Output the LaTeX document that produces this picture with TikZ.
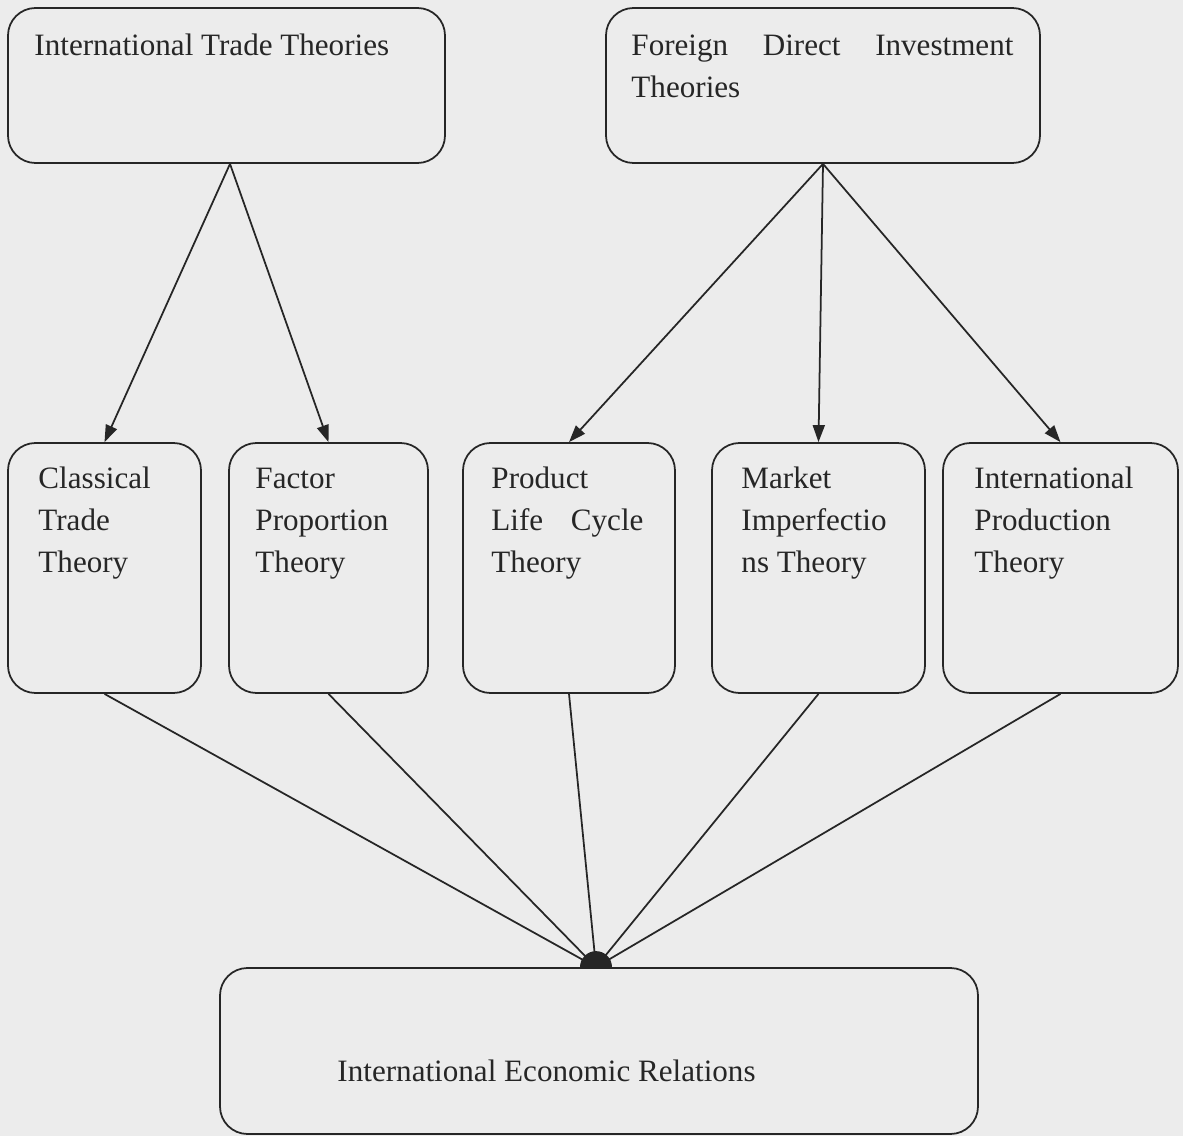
\documentclass[tikz,border=0pt]{standalone}
\usepackage{fontspec}
\setmainfont{Liberation Serif}
\usetikzlibrary{arrows.meta}
\definecolor{paper}{RGB}{236,236,236}
\definecolor{ink}{RGB}{38,38,38}
\tikzset{
  theorybox/.style={draw=ink, line width=1pt, rounded corners=0.55cm, inner sep=0pt},
  boxtext/.style={anchor=base west, inner sep=0pt, text=ink, align=justify, font=\fontsize{17.7}{23.9}\selectfont},
  link/.style={draw=ink, line width=1pt},
  tip/.style={-{Triangle[length=0.34cm,width=0.24cm]}}
}
\begin{document}
\begin{tikzpicture}
    \fill[paper] (0,0) rectangle (23.66,-22.72);
    \useasboundingbox (0,0) rectangle (23.66,-22.72);

    % theory groups
    \node[theorybox, minimum width=8.74cm, minimum height=3.1cm] (itt) at (4.53,-1.71) {};
    \node[theorybox, minimum width=8.68cm, minimum height=3.1cm] (fdi) at (16.46,-1.71) {};
    \node[boxtext, text width=7.6cm] (itt-t) at ([shift={(0.54,-0.96)}]itt.north west) {International Trade Theories};
    \node[boxtext, text width=7.64cm] (fdi-t) at ([shift={(0.52,-0.96)}]fdi.north west) {Foreign \hfill Direct \hfill Investment\\Theories};

    % single theories
    \node[theorybox, minimum width=3.86cm, minimum height=5cm] (cls) at (2.09,-11.36) {};
    \node[theorybox, minimum width=3.98cm, minimum height=5cm] (fac) at (6.57,-11.36) {};
    \node[theorybox, minimum width=4.24cm, minimum height=5cm] (plc) at (11.38,-11.36) {};
    \node[theorybox, minimum width=4.26cm, minimum height=5cm] (mkt) at (16.37,-11.36) {};
    \node[theorybox, minimum width=4.7cm, minimum height=5cm] (ipt) at (21.21,-11.36) {};

    \node[boxtext, text width=3.04cm] (cls-t) at ([shift={(0.62,-0.92)}]cls.north west) {Classical\\Trade\\Theory};
    \node[boxtext, text width=3.04cm] (fac-t) at ([shift={(0.54,-0.92)}]fac.north west) {Factor\\Proportion\\Theory};
    \node[boxtext, text width=3.04cm] (plc-t) at ([shift={(0.58,-0.92)}]plc.north west) {Product\\Life \hfill Cycle\\Theory};
    \node[boxtext, text width=3.04cm] (mkt-t) at ([shift={(0.6,-0.92)}]mkt.north west) {Market\\Imperfectio\\ns Theory};
    \node[boxtext, text width=3.04cm] (ipt-t) at ([shift={(0.64,-0.92)}]ipt.north west) {International\\Production\\Theory};

    % common outcome
    \node[theorybox, minimum width=15.16cm, minimum height=3.32cm] (ier) at (11.98,-21.02) {};
    \node[boxtext] (ier-t) at ([shift={(2.36,-2.28)}]ier.north west) {International Economic Relations};

    \coordinate (fork) at ([xshift=0.07cm]itt.south);
    \draw[link, tip] (fork) -- (cls.north);
    \draw[link, tip] (fork) -- (fac.north);
    \draw[link, tip] (fdi.south) -- (plc.north);
    \draw[link, tip] (fdi.south) -- (mkt.north);
    \draw[link, tip] (fdi.south) -- (ipt.north);

    \coordinate (hub) at ([xshift=-0.06cm]ier.north);
    \draw[link] (cls.south) -- (hub);
    \draw[link] (fac.south) -- (hub);
    \draw[link] (plc.south) -- (hub);
    \draw[link] (mkt.south) -- (hub);
    \draw[link] (ipt.south) -- (hub);
    \fill[ink] ([xshift=-0.32cm]hub) arc[start angle=180, end angle=0, radius=0.32cm] -- cycle;
\end{tikzpicture}
\end{document}
